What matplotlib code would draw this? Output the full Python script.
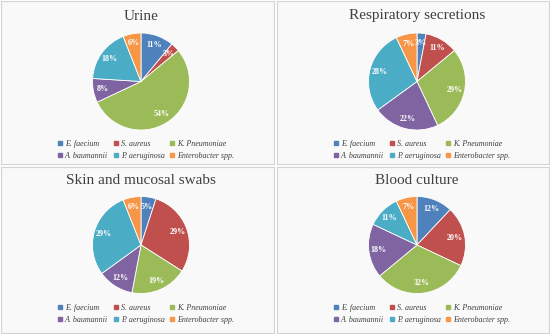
import numpy as np
import matplotlib.pyplot as plt
from matplotlib.lines import Line2D

species = ['E. faecium', 'S. aureus', 'K. Pneumoniae',
           'A. baumannii', 'P. aeruginosa', 'Enterobacter spp.']
colors = ['#4F81BD', '#C0504D', '#9BBB59', '#8064A2', '#4BACC6', '#F79646']

titles = ['Urine', 'Respiratory secretions', 'Skin and mucosal swabs', 'Blood culture']
urine = [11, 3, 54, 8, 18, 6]
respiratory = [3, 11, 29, 22, 28, 7]
skin = [5, 29, 19, 12, 29, 6]
blood = [12, 20, 32, 18, 11, 7]
data = [urine, respiratory, skin, blood]

W, H = 550, 334
fig = plt.figure(figsize=(5.5, 3.34), dpi=100)
fig.patch.set_facecolor('white')

# panel rectangles in pixels: x0, y0 (top), w, h
panels = [(1, 1, 273, 163), (277, 1, 272, 163), (1, 167, 273, 166), (277, 167, 272, 166)]
serif = 'Liberation Serif'

for k, (px, py, pw, ph) in enumerate(panels):
    bg = fig.add_axes([px / W, 1 - (py + ph) / H, pw / W, ph / H])
    bg.set_facecolor('#f9f9f9')
    bg.set_xticks([])
    bg.set_yticks([])
    for s in bg.spines.values():
        s.set_color('#d4d4d4')
        s.set_linewidth(0.8)

    top = k < 2
    # title
    fig.text((px + 140) / W, 1 - (py + (15 if top else 13)) / H, titles[k],
             ha='center', va='center', fontsize=11, family=serif, color='#404040')

    # pie
    r = 48.5
    cx = px + 140
    cy = py + (80.5 if top else 78)
    ax = fig.add_axes([(cx - r) / W, 1 - (cy + r) / H, 2 * r / W, 2 * r / H])
    ax.pie(data[k], colors=colors, startangle=90, counterclock=False,
           autopct='%d%%', pctdistance=0.8,
           wedgeprops=dict(edgecolor='white', linewidth=0.6),
           textprops=dict(color='white', fontsize=5.8, fontweight='bold', family=serif))
    ax.set_xlim(-1, 1)
    ax.set_ylim(-1, 1)
    ax.set_aspect('equal')

    # legend: one small legend per column, two rows each
    col_x = [57, 113, 169]
    row_y = 139 if top else 137
    for c in range(3):
        hs = [Line2D([], [], marker='s', linestyle='', markersize=2.8, color=colors[i])
              for i in (c, c + 3)]
        fig.legend(hs, [species[c], species[c + 3]], loc='upper left',
                   bbox_to_anchor=((px + col_x[c]) / W, 1 - (py + row_y) / H),
                   frameon=False, handlelength=0.5, handletextpad=0.35,
                   labelspacing=0.5, borderpad=0, borderaxespad=0,
                   prop=dict(family=serif, style='italic', size=5.8),
                   labelcolor='#404040')

fig.savefig('out.png', dpi=100)
